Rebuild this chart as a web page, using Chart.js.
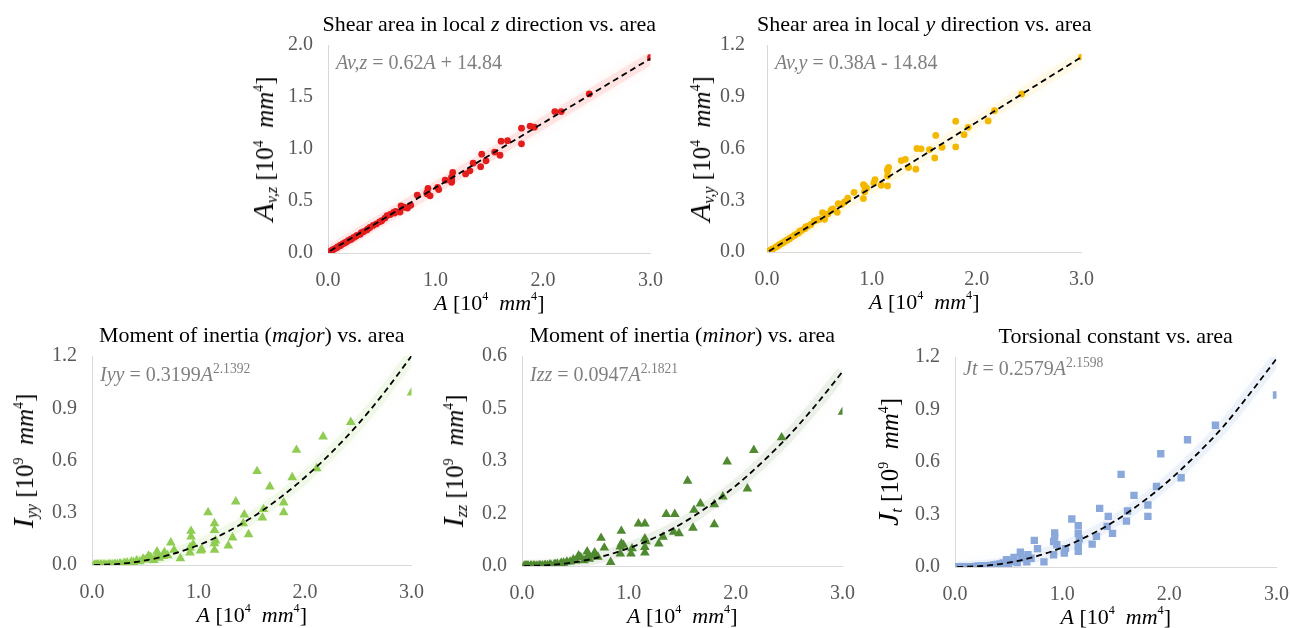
<!DOCTYPE html>
<html>
<head>
<meta charset="utf-8">
<script src="https://cdn.jsdelivr.net/npm/chart.js@4.4.1/dist/chart.umd.min.js"></script>
<style>
  html, body { margin: 0; padding: 0; background: #fff; overflow: hidden; }
  #stage { position: relative; width: 1290px; height: 628px; font-family: 'Liberation Serif', 'Times New Roman', serif; }
  .panel { position: absolute; }
  .panel canvas { position: absolute; left: 0; top: 0; }
  .lbl { position: absolute; white-space: nowrap; line-height: 1; }
  .title { font-size: 22px; color: #000; transform: translate(-50%, -50%); }
  .xtitle { font-size: 22px; color: #000; transform: translate(-50%, -50%); }
  .ytitle { font-size: 25px; color: #000; transform: translate(-50%, -50%) rotate(-90deg); }
  .ytitle .sym { font-size: 30px; }
  .ytitle sub { font-size: 16px; vertical-align: -0.25em; }
  .eq { font-size: 20px; color: #7f7f7f; transform: translateY(-50%); }
  .eq sup { font-size: 0.68em; vertical-align: 0.55em; }
  .xtitle sup, .ytitle sup { font-size: 0.55em; vertical-align: 0.75em; }
</style>
</head>
<body>
<div id="stage"></div>
<script>
// Cross-section area of each section [10^4 mm^2], shared by all five plots
const areas = [
  3.00, 2.43, 2.17, 2.11, 1.92, 1.88, 1.80, 1.80, 1.67, 1.61,
  1.60, 1.55, 1.47, 1.43, 1.42, 1.35, 1.32, 1.28, 1.16, 1.15,
  1.15, 1.15, 1.15, 1.09, 1.03, 1.02, 0.95, 0.93, 0.93, 0.92,
  0.92, 0.83, 0.77, 0.74, 0.68, 0.67, 0.62, 0.61, 0.55, 0.53,
  0.50, 0.48, 0.45, 0.42, 0.39, 0.37, 0.36, 0.33, 0.31, 0.30,
  0.27, 0.26, 0.24, 0.22, 0.21, 0.19, 0.17, 0.16, 0.14, 0.12,
  0.11, 0.09, 0.08, 0.06, 0.05, 0.63, 0.58, 0.71, 0.04, 0.03, 0.02
];

// Shear area, local z [10^4 mm^2]
const shearZ = [
  1.88, 1.53, 1.36, 1.36, 1.21, 1.22, 1.20, 1.05, 1.08, 1.075,
  0.94, 0.97, 0.886, 0.95, 0.83, 0.864, 0.79, 0.76, 0.774, 0.73,
  0.68, 0.70, 0.72, 0.70, 0.61, 0.63, 0.55, 0.62, 0.566, 0.58,
  0.57, 0.557, 0.458, 0.432, 0.454, 0.394, 0.384, 0.39, 0.36, 0.336,
  0.31, 0.30, 0.28, 0.265, 0.245, 0.23, 0.22, 0.205, 0.195, 0.18,
  0.17, 0.16, 0.15, 0.135, 0.13, 0.12, 0.105, 0.10, 0.09, 0.075,
  0.07, 0.058, 0.05, 0.04, 0.033, 0.40, 0.37, 0.44, 0.028, 0.02, 0.015
];

// Shear area, local y [10^4 mm^2]
const shearY = [
  1.13, 0.916, 0.82, 0.76, 0.723, 0.68, 0.758, 0.609, 0.607, 0.676,
  0.545, 0.594, 0.598, 0.60, 0.48, 0.49, 0.537, 0.53, 0.49, 0.48,
  0.47, 0.383, 0.44, 0.387, 0.42, 0.40, 0.37, 0.383, 0.35, 0.31,
  0.39, 0.346, 0.312, 0.29, 0.28, 0.23, 0.247, 0.24, 0.19, 0.228,
  0.19, 0.185, 0.18, 0.16, 0.15, 0.145, 0.135, 0.125, 0.12, 0.11,
  0.10, 0.095, 0.088, 0.08, 0.075, 0.068, 0.062, 0.056, 0.05, 0.043,
  0.038, 0.031, 0.027, 0.02, 0.016, 0.25, 0.22, 0.275, 0.012, 0.009, 0.006
];

// Moment of inertia, major axis [10^9 mm^4]
const inertiaMajor = [
  0.99, 0.82, 0.737, 0.555, 0.66, 0.503, 0.358, 0.302, 0.45, 0.32,
  0.272, 0.538, 0.176, 0.289, 0.239, 0.364, 0.157, 0.111, 0.14, 0.239,
  0.20, 0.124, 0.086, 0.302, 0.09, 0.082, 0.119, 0.195, 0.163, 0.071,
  0.10, 0.038, 0.086, 0.128, 0.073, 0.05, 0.06, 0.077, 0.045, 0.052,
  0.03, 0.035, 0.02, 0.025, 0.015, 0.018, 0.01, 0.012, 0.008, 0.009,
  0.006, 0.005, 0.004, 0.004, 0.003, 0.003, 0.002, 0.002, 0.001, 0.001,
  0.001, 0.0005, 0.0004, 0.0003, 0.0002, 0.04, 0.028, 0.055, 0.0002, 0.0001, 0.0001
];

// Moment of inertia, minor axis [10^9 mm^4]
const inertiaMinor = [
  0.44, 0.367, 0.331, 0.221, 0.298, 0.198, 0.176, 0.119, 0.178, 0.16,
  0.109, 0.243, 0.093, 0.148, 0.097, 0.148, 0.083, 0.064, 0.07, 0.121,
  0.078, 0.054, 0.038, 0.121, 0.05, 0.035, 0.06, 0.10, 0.064, 0.035,
  0.055, 0.011, 0.052, 0.08, 0.038, 0.03, 0.03, 0.041, 0.025, 0.03,
  0.015, 0.018, 0.012, 0.012, 0.009, 0.008, 0.006, 0.006, 0.005, 0.004,
  0.003, 0.003, 0.002, 0.002, 0.0015, 0.001, 0.001, 0.001, 0.0005, 0.0005,
  0.0003, 0.0002, 0.0001, 0.0001, 0.0001, 0.02, 0.016, 0.026, 0.0001, 0.0001, 0.0001
];

// Torsional constant [10^9 mm^4]
const torsion = [
  0.983, 0.81, 0.727, 0.51, 0.647, 0.46, 0.354, 0.289, 0.409, 0.32,
  0.262, 0.529, 0.192, 0.289, 0.232, 0.335, 0.175, 0.131, 0.16, 0.236,
  0.192, 0.118, 0.089, 0.274, 0.105, 0.08, 0.127, 0.194, 0.171, 0.07,
  0.146, 0.029, 0.105, 0.152, 0.07, 0.03, 0.05, 0.084, 0.055, 0.032,
  0.02, 0.042, 0.023, 0.018, 0.015, 0.012, 0.011, 0.009, 0.008, 0.007,
  0.006, 0.005, 0.004, 0.004, 0.003, 0.003, 0.002, 0.002, 0.001, 0.001,
  0.001, 0.0005, 0.0004, 0.0003, 0.0002, 0.05, 0.025, 0.05, 0.0002, 0.0001, 0.0001
];

// Tick labels
const xTicks = ['0.0', '1.0', '2.0', '3.0'];
const shearZTicks = ['0.0', '0.5', '1.0', '1.5', '2.0'];
const shearYTicks = ['0.0', '0.3', '0.6', '0.9', '1.2'];
const majorTicks = ['0.0', '0.3', '0.6', '0.9', '1.2'];
const minorTicks = ['0.0', '0.2', '0.3', '0.5', '0.6'];
const torsionTicks = ['0.0', '0.3', '0.6', '0.9', '1.2'];

// Trend lines
const lineFitX = [0.02, 3.0];
const shearZFit = [0.02, 1.87];
const shearYFit = [0.005, 1.13];
const curveFitX = [0.02, 0.25, 0.5, 0.75, 1.0, 1.25, 1.5, 1.75, 2.0, 2.25, 2.5, 2.75, 3.0];
const majorFit = [0, 0.006, 0.026, 0.062, 0.114, 0.184, 0.272, 0.379, 0.504, 0.647, 0.81, 0.995, 1.2];
const minorFit = [0, 0.0025, 0.011, 0.027, 0.051, 0.082, 0.122, 0.172, 0.229, 0.297, 0.373, 0.46, 0.555];
const torsionFit = [0, 0.0056, 0.025, 0.06, 0.111, 0.18, 0.266, 0.372, 0.496, 0.64, 0.80, 0.99, 1.19];

const xUnit = '<i>A</i> [10<sup>4</sup>&nbsp; <i>mm</i><sup>4</sup>]';

// Layout of the five panels (plot area origin and size in page pixels)
const panels = [
  {
    left: 328, top: 45, plotW: 323, plotH: 208,
    ys: shearZ, yTicks: shearZTicks, fitX: lineFitX, fitY: shearZFit,
    color: '#e31c1c', glow: '255,40,40', style: 'circle', radius: 3.4, tickPad: 15,
    title: 'Shear area in local <i>z</i> direction vs. area',
    yTitle: '<span class="sym"><i>A</i></span><sub><i>v,z</i></sub> [10<sup>4</sup>&nbsp; <i>mm</i><sup>4</sup>]',
    eq: '<i>Av,z</i> = 0.62<i>A</i> + 14.84', eqDy: 17, yTitleDx: 64
  },
  {
    left: 767, top: 45, plotW: 315, plotH: 207,
    ys: shearY, yTicks: shearYTicks, fitX: lineFitX, fitY: shearYFit,
    color: '#f4b800', glow: '255,210,60', style: 'circle', radius: 3.4, tickPad: 22,
    title: 'Shear area in local <i>y</i> direction vs. area',
    yTitle: '<span class="sym"><i>A</i></span><sub><i>v,y</i></sub> [10<sup>4</sup>&nbsp; <i>mm</i><sup>4</sup>]',
    eq: '<i>Av,y</i> = 0.38<i>A</i> - 14.84', eqDy: 17, yTitleDx: 66
  },
  {
    left: 92, top: 356, plotW: 320, plotH: 209,
    ys: inertiaMajor, yTicks: majorTicks, fitX: curveFitX, fitY: majorFit,
    color: '#8fcc52', glow: '140,205,80', style: 'triangle', radius: 5.6, tickPad: 15,
    title: 'Moment of inertia (<i>major</i>) vs. area',
    yTitle: '<span class="sym"><i>I</i></span><sub><i>yy</i></sub> [10<sup>9</sup>&nbsp; <i>mm</i><sup>4</sup>]',
    eq: '<i>Iyy</i> = 0.3199<i>A</i><sup>2.1392</sup>', eqDy: 17, yTitleDx: 68
  },
  {
    left: 522, top: 356, plotW: 321, plotH: 210,
    ys: inertiaMinor, yTicks: minorTicks, fitX: curveFitX, fitY: minorFit,
    color: '#4f8a30', glow: '100,140,80', style: 'triangle', radius: 5.6, tickPad: 15,
    title: 'Moment of inertia (<i>minor</i>) vs. area',
    yTitle: '<span class="sym"><i>I</i></span><sub><i>zz</i></sub> [10<sup>9</sup>&nbsp; <i>mm</i><sup>4</sup>]',
    eq: '<i>Izz</i> = 0.0947<i>A</i><sup>2.1821</sup>', eqDy: 17, yTitleDx: 68
  },
  {
    left: 955, top: 357, plotW: 322, plotH: 210,
    ys: torsion, yTicks: torsionTicks, fitX: curveFitX, fitY: torsionFit,
    color: '#8aa8d9', glow: '110,150,220', style: 'rect', radius: 5.2, tickPad: 15,
    title: 'Torsional constant vs. area',
    yTitle: '<span class="sym"><i>J</i></span><sub><i>t</i></sub> [10<sup>9</sup>&nbsp; <i>mm</i><sup>4</sup>]',
    eq: '<i>Jt</i> = 0.2579<i>A</i><sup>2.1598</sup>', eqDy: 10, yTitleDx: 66
  }
];

const Y_AXIS_W = 70;
const X_AXIS_H = 40;
const PAD_TOP = 2;
const PAD_RIGHT = 4;
const stage = document.getElementById('stage');

// Soft glow under the trend line (dataset index 2)
const glowPlugin = {
  id: 'trendGlow',
  beforeDatasetDraw(chart, args, opts) {
    if (args.index !== 2) return;
    chart.ctx.save();
    chart.ctx.shadowColor = opts.color;
    chart.ctx.shadowBlur = 14;
  },
  afterDatasetDraw(chart, args) {
    if (args.index !== 2) return;
    chart.ctx.restore();
  }
};

function addLabel(div, cls, html, x, y) {
  const el = document.createElement('div');
  el.className = 'lbl ' + cls;
  el.innerHTML = html;
  el.style.left = x + 'px';
  el.style.top = y + 'px';
  div.appendChild(el);
}

function buildChart(canvas, p) {
  const points = areas.map((a, i) => ({ x: a, y: p.ys[i] }));
  const fit = p.fitX.map((a, i) => ({ x: a, y: p.fitY[i] }));
  const yMax = parseFloat(p.yTicks[p.yTicks.length - 1]);
  const tickFont = { family: "'Liberation Serif', 'Times New Roman', serif", size: 20 };

  return new Chart(canvas.getContext('2d'), {
    type: 'scatter',
    plugins: [glowPlugin],
    data: {
      datasets: [
        {
          data: fit, showLine: true, borderColor: '#000', borderWidth: 1.8,
          borderDash: [6, 4], pointRadius: 0, cubicInterpolationMode: 'monotone', fill: false
        },
        {
          data: points, backgroundColor: p.color, borderColor: p.color, borderWidth: 0,
          pointRadius: p.radius, pointStyle: p.style
        },
        {
          data: fit, showLine: true, borderColor: 'rgba(' + p.glow + ',0.10)', borderWidth: 12,
          pointRadius: 0, cubicInterpolationMode: 'monotone', fill: false
        }
      ]
    },
    options: {
      responsive: false,
      animation: false,
      events: [],
      layout: { padding: { top: PAD_TOP, right: PAD_RIGHT, left: 0, bottom: 0 } },
      plugins: {
        legend: { display: false },
        tooltip: { enabled: false },
        trendGlow: { color: 'rgba(' + p.glow + ',0.45)' }
      },
      scales: {
        x: {
          type: 'linear', min: 0, max: 3,
          afterFit: s => { s.height = X_AXIS_H; },
          grid: { display: false, drawTicks: false },
          border: { display: true, color: '#d9d9d9', width: 1 },
          ticks: {
            stepSize: 1, padding: 16, color: '#595959', font: tickFont, maxRotation: 0,
            callback: (v, i) => xTicks[i]
          }
        },
        y: {
          type: 'linear', min: 0, max: yMax,
          afterFit: s => { s.width = Y_AXIS_W; },
          grid: { display: false, drawTicks: false },
          border: { display: true, color: '#d9d9d9', width: 1 },
          ticks: {
            count: p.yTicks.length, padding: p.tickPad, color: '#595959', font: tickFont,
            callback: (v, i) => p.yTicks[i]
          }
        }
      }
    }
  });
}

function makePanel(p) {
  let w = Y_AXIS_W + p.plotW + PAD_RIGHT;
  let h = PAD_TOP + p.plotH + X_AXIS_H;
  const div = document.createElement('div');
  div.className = 'panel';
  const canvas = document.createElement('canvas');
  canvas.width = w;
  canvas.height = h;
  div.appendChild(canvas);
  stage.appendChild(div);

  // first pass: find the margins the library keeps round the plot area
  let chart = buildChart(canvas, p);
  const leftOff = chart.chartArea.left;
  const topOff = chart.chartArea.top;
  const rightOff = w - chart.chartArea.right;
  const bottomOff = h - chart.chartArea.bottom;
  chart.destroy();

  w = leftOff + p.plotW + rightOff;
  h = topOff + p.plotH + bottomOff;
  canvas.width = w;
  canvas.height = h;
  div.style.left = (p.left - leftOff) + 'px';
  div.style.top = (p.top - topOff) + 'px';
  div.style.width = w + 'px';
  div.style.height = h + 'px';
  chart = buildChart(canvas, p);

  const area = chart.chartArea;
  const cx = (area.left + area.right) / 2;
  const cy = (area.top + area.bottom) / 2;
  addLabel(div, 'title', p.title, cx, area.top - 21);
  addLabel(div, 'xtitle', xUnit, cx, area.bottom + 49);
  addLabel(div, 'ytitle', p.yTitle, area.left - p.yTitleDx, cy);
  addLabel(div, 'eq', p.eq, area.left + 8, area.top + p.eqDy);
}

panels.forEach(makePanel);
</script>
</body>
</html>
